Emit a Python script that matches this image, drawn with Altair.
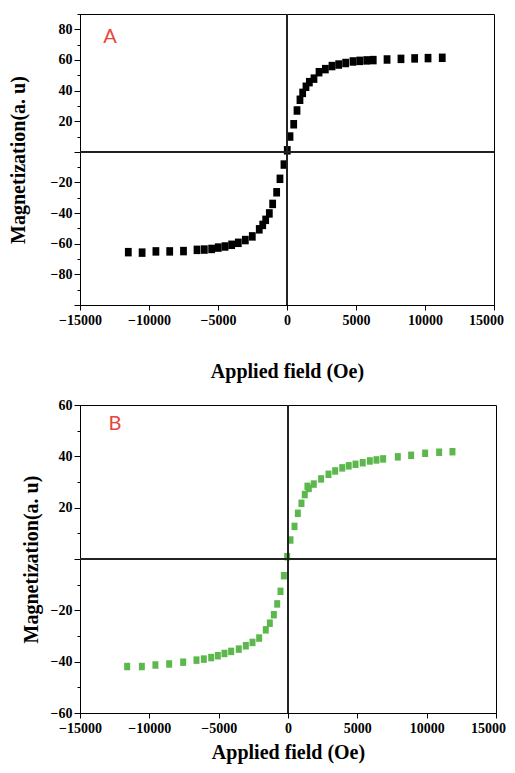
import altair as alt
import pandas as pd

# Panel A (black)
A_field = [-11500, -10500, -9500, -8500, -7500, -6520, -5990, -5460, -4980, -4490,
           -4010, -3530, -3020, -2515, -2010, -1760, -1545, -1280, -1040, -750,
           -510, -220, 20, 217, 485, 725, 940, 1135, 1375, 1620,
           1955, 2320, 2780, 3260, 3745, 4250, 4780, 5265, 5775, 6250,
           7250, 8260, 9250, 10220, 11250]
A_mag = [-65.5, -65.8, -65, -65, -64.8, -64, -63.8, -63.4, -62.5, -61.8,
         -60.7, -59.4, -57.6, -55.2, -50.6, -47.7, -44.4, -40.2, -34, -26.4,
         -17.6, -8.3, 1, 10, 18, 27, 34, 38.5, 42.5, 45.5,
         47.8, 52, 54, 56, 57, 58, 59, 59.4, 59.7, 59.9,
         60.3, 60.7, 61, 61.2, 61.4]

# Panel B (green)
B_field = [-11600, -10540, -9560, -8570, -7560, -6600, -6070, -5540, -5060, -4580,
           -4100, -3550, -3040, -2560, -2080, -1600, -1310, -1020, -780, -540,
           -300, -60, 180, 470, 710, 970, 1210, 1400, 1500, 1860,
           2390, 2920, 3400, 3910, 4380, 4870, 5390, 5900, 6380, 6860,
           7920, 8880, 9890, 10900, 11860]
B_mag = [-41.9, -41.9, -41.3, -40.9, -40.2, -39.4, -39, -38.4, -37.7, -36.8,
         -36, -35.1, -33.8, -32.5, -30.8, -27.6, -25, -21.7, -17.5, -12.6,
         -6.5, 0.9, 7.4, 12.7, 17.8, 21.7, 25.1, 28.3, 27.5, 29.2,
         31.2, 33, 34.3, 35.5, 36.3, 36.9, 37.5, 38.2, 38.6, 39,
         39.8, 40.4, 41.2, 41.6, 41.8]

x_ticks = [-15000, -10000, -5000, 0, 5000, 10000, 15000]
A_yticks = list(range(-100, 91, 10))
B_yticks = list(range(-60, 61, 10))
panel_labels = ["A", "B"]

SERIF = "Liberation Serif"
SHAPE = "M-0.8,-1H0.8V1H-0.8Z"


def panel(field, mag, color, ydom, yticks, lmin, lmax, w, h, letter, lx, ly,
          ytp, xtp, size):
    df = pd.DataFrame({"field": field, "mag": mag, "zero": [0] * len(field)})
    label_expr = (f"datum.value % 20 === 0 && datum.value !== 0 && "
                  f"datum.value >= {lmin} && datum.value <= {lmax} ? datum.label : ''")
    xscale = alt.Scale(domain=[-15000, 15000], nice=False)
    yscale = alt.Scale(domain=ydom, nice=False, zero=False)
    xaxis = alt.Axis(values=x_ticks, title="Applied field (Oe)",
                     tickSize=5, labelFlush=False, labelOverlap=False,
                     labelOffset={"condition": {"test": "datum.value === 15000", "value": -8},
                                  "value": 0},
                     labelPadding=3, titlePadding=xtp, format="d")
    yaxis = alt.Axis(values=yticks, title="Magnetization(a. u)",
                     labelExpr=label_expr,
                     tickSize={"condition": {"test": "datum.value % 20 === 0", "value": 6},
                               "value": 3},
                     labelFlush=False, labelOverlap=False,
                     labelPadding=2, titlePadding=ytp)
    base = alt.Chart(df)
    pts = base.mark_point(shape=SHAPE, filled=True, opacity=1,
                          size=size, color=color).encode(
        x=alt.X("field:Q", scale=xscale, axis=xaxis),
        y=alt.Y("mag:Q", scale=yscale, axis=yaxis))
    hline = base.mark_rule(color="#222", strokeWidth=1).encode(
        y=alt.Y("zero:Q", scale=yscale, axis=yaxis))
    vline = base.mark_rule(color="#222", strokeWidth=1).encode(
        x=alt.X("zero:Q", scale=xscale, axis=xaxis))
    txt = alt.Chart(pd.DataFrame({"t": [letter]})).mark_text(
        font="Lato", fontSize=20, color="#e8453c", align="center", baseline="middle"
    ).encode(x=alt.value(lx), y=alt.value(ly), text="t:N")
    return alt.layer(pts, hline, vline, txt).properties(width=w, height=h)


A = panel(A_field, A_mag, "black", [-100, 90], A_yticks, -80, 80, 414, 291,
          panel_labels[0], 30, 23, 22, 34, 72)
B = panel(B_field, B_mag, "#5cb84c", [-60, 60], B_yticks, -60, 60, 416, 308,
          panel_labels[1], 35, 19, 9, 7, 56)

chart = alt.vconcat(A, B, spacing=15).properties(
    autosize=alt.AutoSizeParams(type="none"),
    padding={"left": 72, "top": 6, "right": 427, "bottom": 751}
).configure_view(stroke="black", strokeWidth=1).configure_axis(
    labelFont=SERIF, titleFont=SERIF, labelFontWeight="bold", titleFontWeight="bold",
    labelFontSize=14, titleFontSize=20, labelColor="black", titleColor="black",
    domainColor="black", tickColor="black", grid=False
)

chart.save("out.html", embed_options={"renderer": "svg", "actions": False})
